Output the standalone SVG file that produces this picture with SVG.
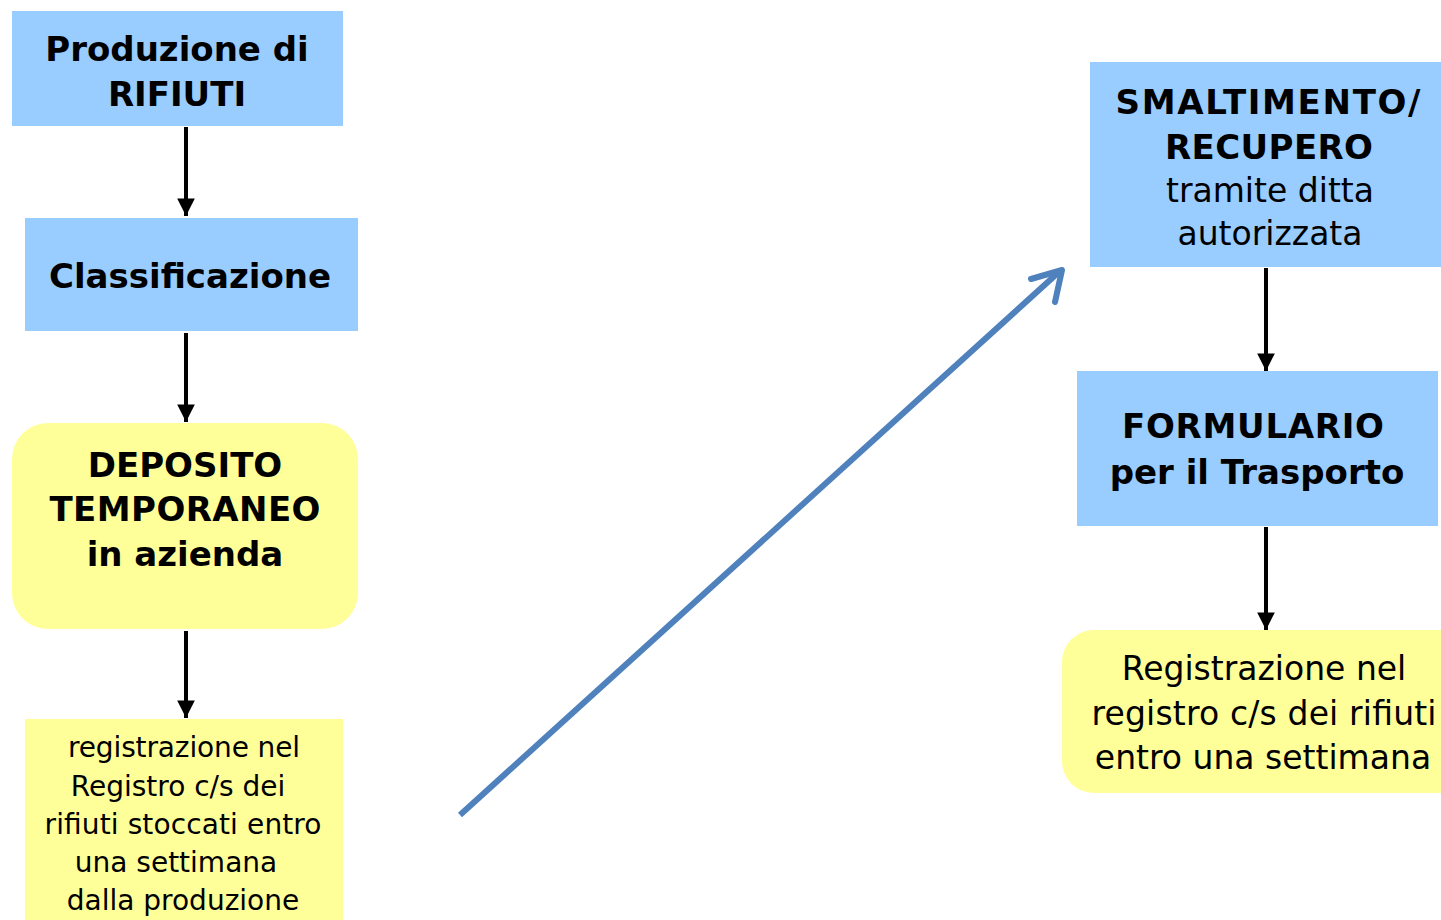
<svg xmlns="http://www.w3.org/2000/svg" width="1441" height="920" viewBox="0 0 1441 920">
  <style>
    .blue { fill: #99ccff; }
    .yellow { fill: #ffff99; }
    .t { font-family: "DejaVu Sans", Verdana, sans-serif; fill: #000; text-anchor: middle; }
    .b { font-weight: bold; font-size: 34px; }
    .s { font-size: 28px; }
    .r { font-size: 33px; }
    .flow { stroke: #000; stroke-width: 4; fill: none; marker-end: url(#head); }
    .jump { stroke: #4f81bd; stroke-width: 6; fill: none; stroke-linecap: round; stroke-linejoin: round; }
  </style>
  <defs>
    <marker id="head" viewBox="0 0 10 10" refX="10" refY="5" markerWidth="4.6" markerHeight="4.4" orient="auto" markerUnits="strokeWidth">
      <path d="M0,0 L10,5 L0,10 z" fill="#000"/>
    </marker>
  </defs>
  <rect width="1441" height="920" fill="#fff"/>

  <g id="produzione">
    <rect class="blue" x="12" y="11" width="331" height="115"/>
    <text class="t b" x="177" y="61">Produzione di</text>
    <text class="t b" x="177" y="106">RIFIUTI</text>
  </g>

  <g id="classificazione">
    <rect class="blue" x="25" y="218" width="333" height="113"/>
    <text class="t b" x="190" y="288">Classificazione</text>
  </g>

  <g id="deposito">
    <rect class="yellow" x="12" y="423" width="346" height="206" rx="36" ry="36"/>
    <text class="t b" x="185" y="477">DEPOSITO</text>
    <text class="t b" x="185" y="521" textLength="271">TEMPORANEO</text>
    <text class="t b" x="185" y="566">in azienda</text>
  </g>

  <g id="registrazione-deposito">
    <rect class="yellow" x="25" y="719" width="318" height="210"/>
    <text class="t s" x="184" y="757" textLength="232">registrazione nel</text>
    <text class="t s" x="178" y="796">Registro c/s dei</text>
    <text class="t s" x="183" y="834" textLength="277">rifiuti stoccati entro</text>
    <text class="t s" x="176" y="872">una settimana</text>
    <text class="t s" x="183" y="910">dalla produzione</text>
  </g>

  <g id="smaltimento">
    <rect class="blue" x="1090" y="62" width="351" height="205"/>
    <text class="t b" x="1268" y="114" textLength="305">SMALTIMENTO/</text>
    <text class="t b" x="1269" y="159" textLength="208">RECUPERO</text>
    <text class="t r" x="1270" y="202">tramite ditta</text>
    <text class="t r" x="1270" y="245">autorizzata</text>
  </g>

  <g id="formulario">
    <rect class="blue" x="1077" y="371" width="361" height="155"/>
    <text class="t b" x="1253" y="438" textLength="262">FORMULARIO</text>
    <text class="t b" x="1257" y="484">per il Trasporto</text>
  </g>

  <g id="registrazione-trasporto">
    <rect class="yellow" x="1062" y="630" width="420" height="163" rx="32" ry="32"/>
    <text class="t r" x="1264" y="680">Registrazione nel</text>
    <text class="t r" x="1264" y="725" textLength="345">registro c/s dei rifiuti</text>
    <text class="t r" x="1263" y="769">entro una settimana</text>
  </g>

  <g id="connectors">
    <line class="flow" x1="186" y1="127" x2="186" y2="216"/>
    <line class="flow" x1="186" y1="333" x2="186" y2="422"/>
    <line class="flow" x1="186" y1="631" x2="186" y2="718"/>
    <line class="flow" x1="1266" y1="268" x2="1266" y2="371"/>
    <line class="flow" x1="1266" y1="527" x2="1266" y2="630"/>
    <path class="jump" d="M460,815 L1060,271" style="stroke-linecap:butt"/>
    <path class="jump" d="M1031,279 L1062,270 L1055,302"/>
  </g>
</svg>
